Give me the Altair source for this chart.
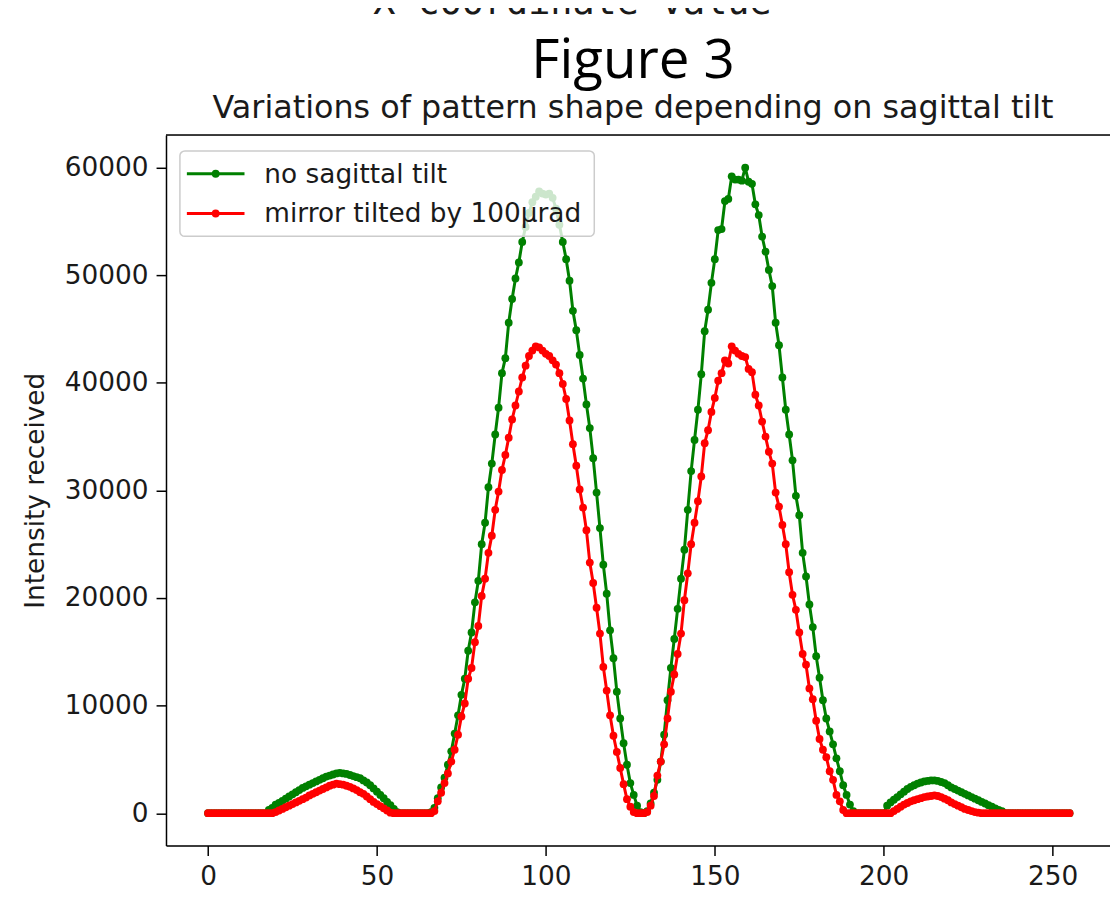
import altair as alt
import pandas as pd

# ---------------- data ----------------
x_coords = list(range(256))

green_no_tilt = [
    0, 0, 0, 0, 0, 0, 0, 0, 0, 0, 0, 0, 0, 0, 0, 0,
    0, 0, 300, 500, 800, 950, 1150, 1350, 1550, 1750, 1950, 2150, 2350, 2500, 2650, 2800,
    2950, 3100, 3250, 3400, 3500, 3600, 3700, 3750, 3700, 3650, 3550, 3450, 3350, 3250, 3050, 2850,
    2600, 2300, 2000, 1700, 1400, 1050, 750, 400, 100, 0, 0, 0, 0, 0, 0, 0,
    0, 0, 100, 500, 1400, 2400, 3300, 4500, 5750, 7400, 9100, 11000, 12500, 15100, 16800, 19600,
    21600, 25000, 27000, 30300, 32500, 35200, 37700, 40900, 42300, 45600, 47800, 49700, 51200, 53100, 54500, 55800,
    56800, 57300, 57800, 57600, 57500, 57600, 57200, 56200, 54700, 53100, 51500, 49500, 46700, 44900, 42600, 40400,
    38000, 35800, 33000, 29800, 26500, 23100, 20400, 17000, 14400, 11300, 8800, 6500, 4500, 2800, 1700, 700,
    100, 0, 200, 900, 1900, 3100, 4800, 7300, 10500, 13500, 16200, 19000, 21800, 24500, 28200, 31800,
    34700, 37500, 40800, 44800, 46800, 49300, 51500, 54200, 54300, 56900, 57100, 59200, 58900, 58900, 58800, 60000,
    58700, 58500, 56600, 55600, 53600, 52200, 50500, 49000, 45600, 43500, 40500, 37500, 35200, 32800, 29500, 27700,
    24200, 22000, 19400, 17300, 14600, 12600, 10500, 8800, 7600, 6400, 5100, 3900, 2600, 1700, 800, 200,
    0, 0, 0, 0, 0, 0, 0, 0, 0, 700, 1000, 1250, 1500, 1750, 2000, 2250,
    2450, 2600, 2750, 2850, 2950, 3000, 3050, 3050, 3000, 2900, 2800, 2600, 2400, 2250, 2100, 1950,
    1800, 1650, 1500, 1350, 1200, 1050, 900, 750, 600, 450, 300, 200, 0, 0, 0, 0,
    0, 0, 0, 0, 0, 0, 0, 0, 0, 0, 0, 0, 0, 0, 0, 0,
]

red_tilted = [
    0, 0, 0, 0, 0, 0, 0, 0, 0, 0, 0, 0, 0, 0, 0, 0,
    0, 0, 0, 0, 100, 250, 400, 550, 700, 850, 1000, 1150, 1300, 1450, 1650, 1800,
    1950, 2100, 2250, 2400, 2550, 2650, 2750, 2700, 2650, 2550, 2450, 2300, 2150, 1950, 1800, 1550,
    1300, 1050, 850, 650, 450, 250, 50, 0, 0, 0, 0, 0, 0, 0, 0, 0,
    0, 0, 0, 200, 1100, 1900, 2800, 3700, 4800, 5900, 7300, 9000, 10200, 12500, 13500, 15900,
    17400, 20200, 21800, 24200, 25800, 28200, 29900, 31900, 33300, 34900, 36600, 37900, 39200, 40500, 41600, 42500,
    43000, 43400, 43300, 43000, 42700, 42500, 42100, 41700, 40900, 39900, 38500, 36500, 34300, 32300, 30100, 28400,
    26300, 23300, 21400, 19100, 16700, 13600, 11400, 9100, 7200, 5700, 4200, 2700, 1300, 600, 100, 0,
    0, 0, 100, 700, 1600, 3500, 4800, 6400, 8800, 11300, 12900, 14800, 16700, 19800, 22300, 25000,
    27000, 29000, 31300, 34400, 35600, 37300, 38600, 40200, 40900, 42100, 41800, 43400, 43000, 42700, 42500, 42400,
    41300, 41000, 38900, 37900, 36400, 35000, 33600, 32500, 29800, 28500, 26800, 25000, 22400, 20300, 18900, 16800,
    14800, 13800, 11600, 10600, 8600, 6900, 5900, 5200, 3900, 3100, 1700, 1100, 300, 0, 0, 0,
    0, 0, 0, 0, 0, 0, 0, 0, 0, 0, 0, 200, 400, 600, 800, 950,
    1100, 1200, 1300, 1400, 1500, 1550, 1600, 1650, 1600, 1500, 1350, 1200, 1000, 850, 700, 550,
    400, 300, 200, 100, 50, 0, 0, 0, 0, 0, 0, 0, 0, 0, 0, 0,
    0, 0, 0, 0, 0, 0, 0, 0, 0, 0, 0, 0, 0, 0, 0, 0,
]

series_labels = ["no sagittal tilt", "mirror tilted by 100\u03bcrad"]
series_colors = ["#008000", "#ff0000"]
x_ticks = [0, 50, 100, 150, 200, 250]
y_ticks = [0, 10000, 20000, 30000, 40000, 50000, 60000]

figure_title = "Figure 3"
chart_title = "Variations of pattern shape depending on sagittal tilt"
cut_top_text = "X-coordinate value"
y_title = "Intensity received"

assert len(green_no_tilt) == 256 and len(red_tilted) == 256

# ---------------- layout ----------------
W, H = 950, 715
FONT = "DejaVu Sans"
TXT = "#1a1a1a"
PT = 62

x_scale = alt.Scale(domain=[-12.44, 266.97], nice=False, zero=False)
y_scale = alt.Scale(domain=[-3002, 63042], nice=False, zero=False)

x_axis = alt.Axis(values=x_ticks, title=None, grid=False, tickSize=10, tickWidth=1.5,
                  tickColor="black", domainColor="black", domainWidth=1.5,
                  labelFont=FONT, labelFontSize=26.5, labelColor=TXT, labelPadding=8,
                  format="d")
y_axis = alt.Axis(values=y_ticks, title=y_title, grid=False, tickSize=10, tickWidth=1.5,
                  tickColor="black", domainColor="black", domainWidth=1.5,
                  labelFont=FONT, labelFontSize=26.5, labelColor=TXT, labelPadding=8,
                  format="d", titleFont=FONT, titleFontSize=26.5, titleFontWeight="normal",
                  titleColor=TXT, titlePadding=15)


def series_layers(values, color):
    df = pd.DataFrame({"x": x_coords, "value": values})
    base = alt.Chart(df)
    enc_x = alt.X("x:Q", scale=x_scale, axis=x_axis)
    enc_y = alt.Y("value:Q", scale=y_scale, axis=y_axis)
    line = base.mark_line(color=color, strokeWidth=3).encode(x=enc_x, y=enc_y)
    pts = base.mark_point(color=color, filled=True, size=PT, opacity=1).encode(x=enc_x, y=enc_y)
    return [line, pts]


one = pd.DataFrame({"k": [0]})

layers = []
layers += series_layers(green_no_tilt, series_colors[0])
layers += series_layers(red_tilted, series_colors[1])

# top spine
layers.append(alt.Chart(one).mark_rule(color="black", strokeWidth=1.5).encode(
    x=alt.value(0), x2=alt.value(W), y=alt.value(0)))

# legend box
layers.append(alt.Chart(one).mark_rect(fill="white", fillOpacity=0.8, stroke="#cccccc",
                                       strokeWidth=1.5, cornerRadius=5).encode(
    x=alt.value(14), x2=alt.value(431), y=alt.value(16), y2=alt.value(102)))

row_y = [39, 79]
for lab, col, yy in zip(series_labels, series_colors, row_y):
    layers.append(alt.Chart(one).mark_rule(color=col, strokeWidth=3).encode(
        x=alt.value(21), x2=alt.value(79), y=alt.value(yy)))
    layers.append(alt.Chart(one).mark_point(color=col, filled=True, size=PT, opacity=1).encode(
        x=alt.value(50), y=alt.value(yy)))
    layers.append(alt.Chart(one).mark_text(text=lab, font=FONT, fontSize=26.5, color=TXT,
                                           align="left", baseline="alphabetic").encode(
        x=alt.value(99), y=alt.value(yy + 9)))

# titles
layers.append(alt.Chart(one).mark_text(text=chart_title, font=FONT, fontSize=32, color=TXT,
                                       align="center", baseline="alphabetic").encode(
    x=alt.value(470), y=alt.value(-17)))
layers.append(alt.Chart(one).mark_text(text=figure_title, font="Open Sans", fontSize=55,
                                       color="black", align="center", baseline="alphabetic").encode(
    x=alt.value(470), y=alt.value(-57)))
layers.append(alt.Chart(one).mark_text(text=cut_top_text, font="DejaVu Sans Mono", fontSize=37,
                                       color=TXT, align="center", baseline="alphabetic").encode(
    x=alt.value(409), y=alt.value(-122)))

chart = alt.layer(*layers).properties(
    width=W, height=H,
    padding={"left": 159, "top": 125, "right": 0, "bottom": 45},
    autosize=alt.AutoSizeParams(type="none"),
).configure_view(stroke=None).configure(background="white")

chart.save("out.html", embed_options={"renderer": "svg", "actions": False})
